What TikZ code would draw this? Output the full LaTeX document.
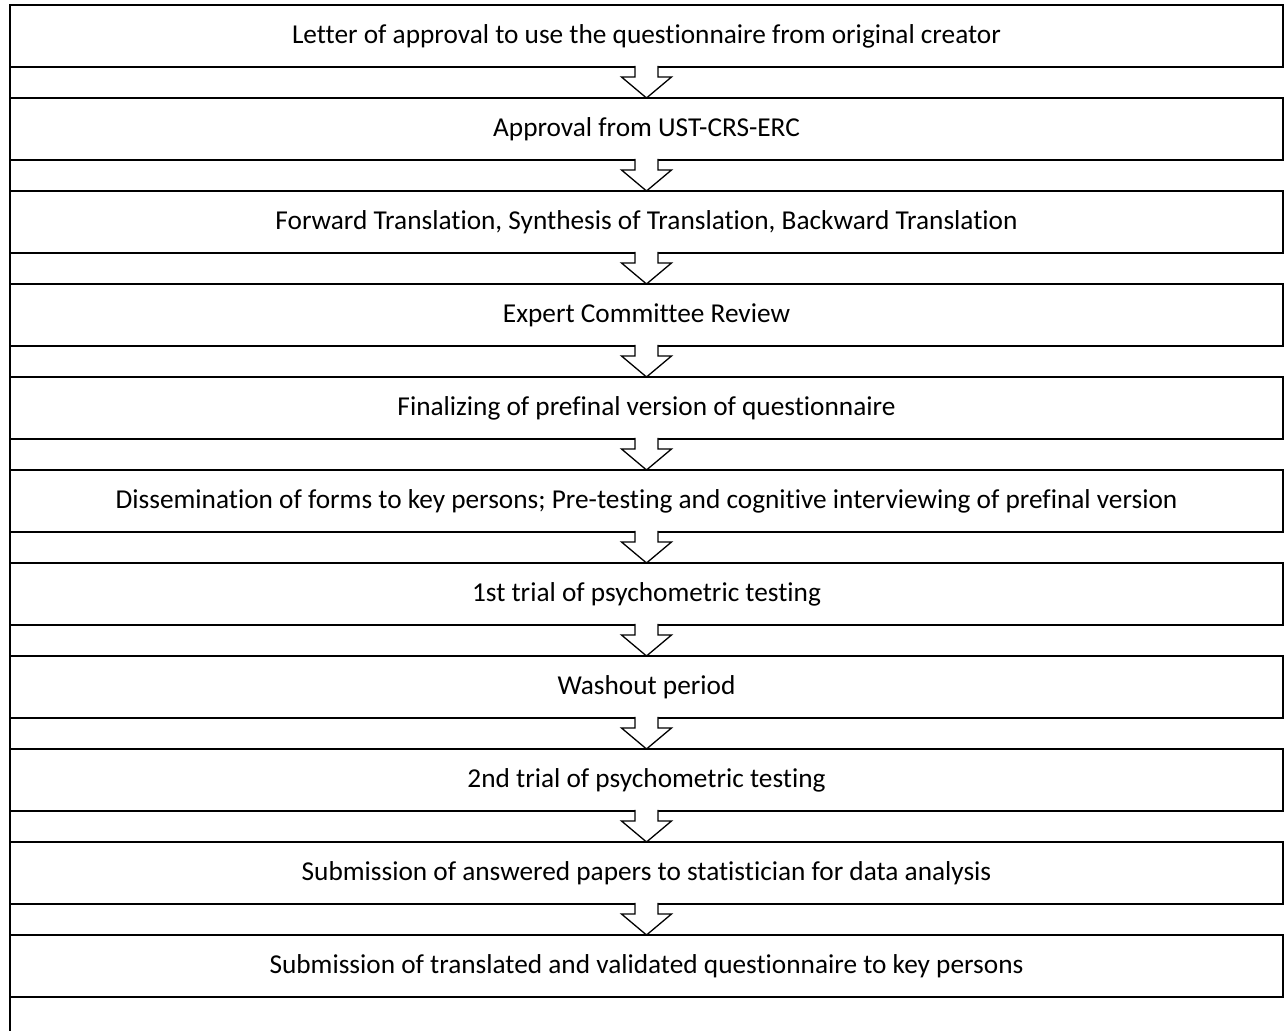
\documentclass[tikz,border=0pt]{standalone}
\usepackage{fontspec}
\setmainfont{Carlito}[Ligatures=NoCommon]
\usetikzlibrary{positioning}

% block arrow between two stacked stages
\newcommand\stagearrow[2]{%
  \filldraw[flowarrow] ([xshift=-11.5pt,yshift=1.2pt]#1.south) -- ++(0,-11.2)
    -- ++(-13.5,0) -- (#2.north) -- ++(25,21) -- ++(-13.5,0) -- ++(0,11.2);
}

\begin{document}
\begin{tikzpicture}[
  x=1pt, y=1pt,
  node distance=31pt,
  stage/.style={draw, line width=2pt, minimum width=1273pt, minimum height=62pt,
                outer sep=0pt, inner sep=0pt, font=\fontsize{27.3}{32}\selectfont},
  flowarrow/.style={draw, fill=white, line width=1.3pt, line join=miter}
]
\useasboundingbox (0,0) rectangle (1284,1031);
\node[stage] (letter) at (646.5,995) {Letter of approval to use the questionnaire from original creator};
\node[stage, below=of letter] (ethics) {Approval from UST-CRS-ERC};
\node[stage, below=of ethics] (translation) {Forward Translation, Synthesis of Translation, Backward Translation};
\node[stage, below=of translation] (committee) {Expert Committee Review};
\node[stage, below=of committee] (prefinal) {Finalizing of prefinal version of questionnaire};
\node[stage, below=of prefinal] (pretest) {Dissemination of forms to key persons; Pre-testing and cognitive interviewing of prefinal version};
\node[stage, below=of pretest] (trial1) {1st trial of psychometric testing};
\node[stage, below=of trial1] (washout) {Washout period};
\node[stage, below=of washout] (trial2) {2nd trial of psychometric testing};
\node[stage, below=of trial2] (analysis) {Submission of answered papers to statistician for data analysis};
\node[stage, below=of analysis] (submission) {Submission of translated and validated questionnaire to key persons};
\draw[line width=2pt] (letter.north west) -- (10,0);
\foreach \a/\b in {letter/ethics, ethics/translation, translation/committee,
                   committee/prefinal, prefinal/pretest, pretest/trial1,
                   trial1/washout, washout/trial2, trial2/analysis,
                   analysis/submission}
  {\stagearrow{\a}{\b}}
\end{tikzpicture}
\end{document}
